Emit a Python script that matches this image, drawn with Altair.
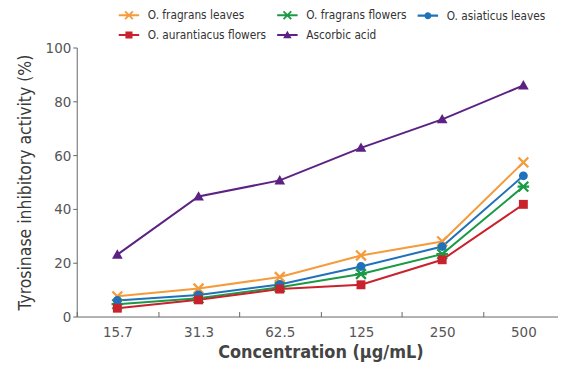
import altair as alt
import pandas as pd

concentrations = ["15.7", "31.3", "62.5", "125", "250", "500"]
series_names = ["O. fragrans leaves", "O. fragrans flowers", "O. asiaticus leaves",
                "O. aurantiacus flowers", "Ascorbic acid"]
fragrans_leaves = [7.5, 10.4, 14.7, 22.7, 27.9, 57.3]
fragrans_flowers = [4.6, 6.8, 10.9, 15.8, 23.2, 48.3]
asiaticus_leaves = [6.0, 8.0, 11.9, 18.6, 26.0, 52.3]
aurantiacus_flowers = [3.1, 6.2, 10.2, 11.8, 21.1, 41.7]
ascorbic_acid = [23.0, 44.6, 50.6, 62.7, 73.3, 85.9]
series_colors = ["#F59B3B", "#1A9A45", "#1F72BA", "#C8232C", "#5C2283"]

X_SHAPE = "M-0.92,-1.28L1.28,0.92L0.92,1.28L-1.28,-0.92Z M-1.28,0.92L0.92,-1.28L1.28,-0.92L-0.92,1.28Z"
AST_SHAPE = X_SHAPE + " M-1.3,-0.25L1.3,-0.25L1.3,0.25L-1.3,0.25Z"
CIRCLE_SHAPE = "M1,0A1,1,0,1,1,-1,0A1,1,0,1,1,1,0Z"
SQUARE_SHAPE = "M-1,-1L1,-1L1,1L-1,1Z"
TRI_SHAPE = "M0,-1.2L1.2,0.9L-1.2,0.9Z"
series_shapes = [X_SHAPE, AST_SHAPE, CIRCLE_SHAPE, SQUARE_SHAPE, TRI_SHAPE]
LEGEND_LINE = " M-2.9,-0.3L2.9,-0.3L2.9,0.3L-2.9,0.3Z"
legend_shapes = [s + LEGEND_LINE for s in series_shapes]

values = [fragrans_leaves, fragrans_flowers, asiaticus_leaves, aurantiacus_flowers, ascorbic_acid]
rows = []
for name, vals in zip(series_names, values):
    for c, v in zip(concentrations, vals):
        rows.append({"conc": c, "series": name, "value": v})
df = pd.DataFrame(rows)

FONT = "DejaVu Sans Condensed, Roboto, sans-serif"

x_enc = alt.X("conc:N", sort=concentrations,
              scale=alt.Scale(range=[0, 489], paddingInner=0, paddingOuter=0),
              axis=alt.Axis(title="Concentration (μg/mL)", labelAngle=0, tickBand="extent",
                            tickSize=alt.ExprRef("-5"), labelPadding=13,
                            labelFontSize=15, labelColor="#555", labelFont=FONT,
                            titleFont=FONT, titleFontSize=18, titleFontWeight="bold",
                            titleColor="#444", titlePadding=4,
                            domainColor="#666", tickColor="#666"))
y_enc = alt.Y("value:Q", scale=alt.Scale(domain=[0, 100], nice=False),
              axis=alt.Axis(title="Tyrosinase inhibitory activity (%)", values=[0, 20, 40, 60, 80, 100],
                            grid=False, tickSize=4, labelPadding=2, labelFontSize=15,
                            labelColor="#555", labelFont=FONT, titleFont=FONT,
                            titleFontSize=17.5, titleFontWeight="normal", titleColor="#3a3a3a",
                            titlePadding=11, domainColor="#666", tickColor="#666"))

legend = alt.Legend(title=None, orient="none", legendX=46.5, legendY=-38.5, columns=3,
                    direction="horizontal", symbolOpacity=1,
                    columnPadding=7, rowPadding=4, symbolSize=50, labelOffset=13,
                    labelFont=FONT, labelFontSize=11.8, labelColor="#333")

base = alt.Chart(df)
lines = base.mark_line(strokeWidth=2).encode(
    x=x_enc, y=y_enc,
    color=alt.Color("series:N", scale=alt.Scale(domain=series_names, range=series_colors),
                    legend=None),
)
legend_points = base.mark_point(filled=True, opacity=0, size=80).encode(
    x=x_enc, y=y_enc,
    color=alt.Color("series:N", scale=alt.Scale(domain=series_names, range=series_colors),
                    legend=legend),
    shape=alt.Shape("series:N", scale=alt.Scale(domain=series_names, range=legend_shapes),
                    legend=legend),
)
points = base.mark_point(filled=True, opacity=1, size=80).encode(
    x=x_enc, y=y_enc,
    color=alt.Color("series:N", scale=alt.Scale(domain=series_names, range=series_colors),
                    legend=None),
    shape=alt.Shape("series:N", scale=alt.Scale(domain=series_names, range=series_shapes),
                    legend=None),
)

chart = alt.layer(lines, legend_points, points).resolve_scale(
    shape="independent", color="independent"
).properties(
    width=483, height=270,
    autosize=alt.AutoSizeParams(type="none"),
    padding={"left": 69, "top": 39, "right": 0, "bottom": 50},
).configure_view(stroke=None)

chart.save("out.html", embed_options={"renderer": "svg", "actions": False})
